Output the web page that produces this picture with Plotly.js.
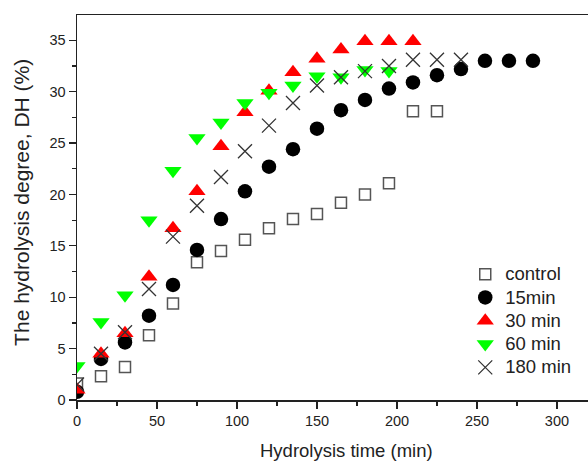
<!DOCTYPE html>
<html>
<head>
<meta charset="utf-8">
<script src="https://cdn.plot.ly/plotly-3.0.1.min.js"></script>
<style>html,body{margin:0;padding:0;background:#fff;}#chart{width:588px;height:461px;}</style>
</head>
<body>
<div id="chart"></div>
<script>
// Hydrolysis time (min)
var timeControl = [0, 15, 30, 45, 60, 75, 90, 105, 120, 135, 150, 165, 180, 195, 210, 225];
var dhControl   = [1.6, 2.3, 3.2, 6.3, 9.4, 13.4, 14.5, 15.6, 16.7, 17.6, 18.1, 19.2, 20.0, 21.1, 28.1, 28.1];

var time15 = [0, 15, 30, 45, 60, 75, 90, 105, 120, 135, 150, 165, 180, 195, 210, 225, 240, 255, 270, 285];
var dh15   = [0.8, 4.0, 5.6, 8.2, 11.2, 14.6, 17.6, 20.3, 22.7, 24.4, 26.4, 28.2, 29.2, 30.3, 30.9, 31.6, 32.2, 33.0, 33.0, 33.0];

var time30 = [0, 15, 30, 45, 60, 75, 90, 105, 120, 135, 150, 165, 180, 195, 210];
var dh30   = [1.0, 4.5, 6.5, 12.0, 16.7, 20.3, 24.7, 28.0, 30.1, 31.9, 33.2, 34.1, 34.9, 34.9, 34.9];

var time60 = [0, 15, 30, 45, 60, 75, 90, 105, 120, 135, 150, 165, 180, 195];
var dh60   = [3.3, 7.6, 10.2, 17.5, 22.3, 25.5, 27.0, 28.9, 29.9, 30.6, 31.5, 31.4, 32.1, 32.0];

var time180 = [0, 15, 30, 45, 60, 75, 90, 105, 120, 135, 150, 165, 180, 195, 210, 225, 240];
var dh180   = [1.5, 4.5, 6.6, 10.8, 15.9, 18.9, 21.7, 24.2, 26.7, 28.9, 30.6, 31.4, 32.0, 32.5, 33.1, 33.1, 33.1];

var seriesNames = ['control', '15min', '30 min', '60 min', '180 min'];
var xTitle = 'Hydrolysis time (min)';
var yTitle = 'The hydrolysis degree, DH (%)';

var FONT = 'Liberation Sans, Arial, sans-serif';
function legendName(s) { return '<span style="font-size:18.5px">' + s + '</span>'; }

var traces = [
  {x: timeControl, y: dhControl, name: legendName(seriesNames[0]), type: 'scatter', mode: 'markers',
   marker: {symbol: 'square-open', size: 11, color: '#555', line: {color: '#555', width: 1.5}}},
  {x: time15, y: dh15, name: legendName(seriesNames[1]), type: 'scatter', mode: 'markers',
   marker: {symbol: 'circle', size: 14.5, color: '#000'}},
  {x: time30, y: dh30, name: legendName(seriesNames[2]), type: 'scatter', mode: 'markers',
   marker: {symbol: 'triangle-up', size: 15, color: '#ff0000'}},
  {x: time60, y: dh60, name: legendName(seriesNames[3]), type: 'scatter', mode: 'markers',
   marker: {symbol: 'triangle-down', size: 15, color: '#00ff00'}},
  {x: time180, y: dh180, name: legendName(seriesNames[4]), type: 'scatter', mode: 'markers',
   marker: {symbol: 'x-thin-open', size: 14, color: '#333', line: {color: '#333', width: 1.3}}}
];

var layout = {
  width: 588, height: 461,
  margin: {l: 77, r: 0, t: 15, b: 61},
  paper_bgcolor: '#fff', plot_bgcolor: '#fff',
  font: {family: FONT, color: '#222', size: 14.5},
  showlegend: true,
  legend: {x: 0.977, xanchor: 'right', y: 0.205, yanchor: 'middle', bgcolor: 'rgba(0,0,0,0)',
           font: {family: FONT, size: 15.6, color: '#222'}, itemwidth: 30, tracegroupgap: 0},
  xaxis: {range: [0, 319.4], showgrid: false, zeroline: false, showline: true, linecolor: '#222', linewidth: 1.5,
          mirror: true, ticks: 'outside', ticklen: 7, tickwidth: 1.2, tickcolor: '#222', dtick: 50, tick0: 0,
          minor: {dtick: 25, ticks: 'outside', ticklen: 4, tickwidth: 1.2, tickcolor: '#222', showgrid: false},
          tickfont: {family: FONT, size: 14.5, color: '#222'}},
  yaxis: {range: [0, 37.46], showgrid: false, zeroline: false, showline: true, linecolor: '#222', linewidth: 1.5,
          ticks: 'outside', ticklen: 7, tickwidth: 1.2, tickcolor: '#222', dtick: 5, tick0: 0,
          minor: {dtick: 2.5, ticks: 'outside', ticklen: 4, tickwidth: 1.2, tickcolor: '#222', showgrid: false},
          tickfont: {family: FONT, size: 14.5, color: '#222'}},
  annotations: [
    {text: xTitle, xref: 'paper', yref: 'paper', x: (346 - 77) / 511, y: -0.13, xanchor: 'center', yanchor: 'middle',
     showarrow: false, font: {family: FONT, size: 18.5, color: '#222'}},
    {text: yTitle, xref: 'paper', yref: 'paper', x: (22 - 77) / 511, y: 0.512, xanchor: 'center', yanchor: 'middle',
     textangle: -90, showarrow: false, font: {family: FONT, size: 21, color: '#222'}}
  ]
};

Plotly.newPlot('chart', traces, layout, {displayModeBar: false, staticPlot: true});
</script>
</body>
</html>
